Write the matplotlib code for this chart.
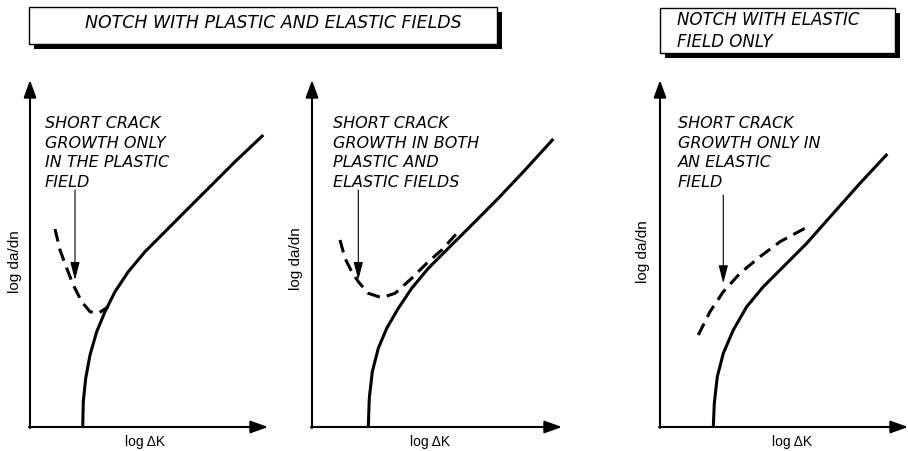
#!/usr/bin/env python3
"""Schematic: short crack growth near notches, log da/dn vs log dK."""

import matplotlib
matplotlib.use("Agg")
import matplotlib.pyplot as plt
from matplotlib.patches import Rectangle

W_PX, H_PX = 908, 451
FONT = "Liberation Sans"
NOTE_FONT = "DejaVu Sans"

# panel data in arbitrary log units (origin at axis corner)
titles = ["NOTCH WITH PLASTIC AND ELASTIC FIELDS", "NOTCH WITH ELASTIC\nFIELD ONLY"]
notes = [
    "SHORT CRACK\nGROWTH ONLY\nIN THE PLASTIC\nFIELD",
    "SHORT CRACK\nGROWTH IN BOTH\nPLASTIC AND\nELASTIC FIELDS",
    "SHORT CRACK\nGROWTH ONLY IN\nAN ELASTIC\nFIELD",
]
xlabel = "log \u0394K"
ylabel = "log da/dn"

# long crack curves (solid)
long_x = [
    [52.7, 53.3, 55.7, 60, 66.7, 75, 85, 98.3, 115, 135, 158.3, 181.7, 205, 233.3],
    [56.3, 57.3, 60.3, 66.3, 74.7, 86.3, 99.7, 116.3, 136.3, 159.7, 186.3, 213, 241.3],
    [53.3, 54.3, 57.3, 63.3, 73.3, 86.7, 103.3, 123.3, 146.7, 173.3, 200, 227.3],
]
long_y = [
    [0, 25.3, 48.7, 72, 95.3, 115.3, 135.3, 155.3, 175.3, 195.3, 218.7, 242, 265.3, 292],
    [0, 28.7, 55.3, 78.7, 98.7, 118.7, 138.7, 158.7, 178.7, 202, 228.7, 257, 288],
    [0, 23.7, 50.3, 73.7, 97, 120.3, 140.3, 160.3, 183.7, 213.7, 243.7, 273],
]
# short crack curves (dashed)
short_x = [
    [25, 30, 36.7, 43.3, 51.7, 60, 68.3, 78.3],
    [28, 33, 39.7, 46.3, 56.3, 69.7, 83, 99.7, 116.3, 129.7, 146.3],
    [38.3, 50, 63.3, 80, 100, 120, 146.7],
]
short_y = [
    [198, 177, 158.7, 142, 125.3, 115.3, 113.7, 120.3],
    [187, 168.7, 155.3, 145.3, 133.7, 129.3, 133.7, 148.7, 165.3, 177, 195.3],
    [92, 115.3, 135.3, 153.7, 170.3, 185.3, 199.7],
]
# annotation arrow: x, y start, y tip
arrow_x = [45, 46.3, 63.3]
arrow_y0 = [237, 237, 232]
arrow_y1 = [147, 147, 143.7]

# layout (pixels)
origins_x = [30, 312, 660]
origin_y = 427
x_len = [238, 250, 248]
y_len = 347
note_left = [15, 21, 18]


def fx(x):
    return x / W_PX


def fy(y):
    return 1 - y / H_PX


fig = plt.figure(figsize=(W_PX / 100, H_PX / 100), dpi=100)

for i in range(3):
    x0 = origins_x[i]
    ax = fig.add_axes([fx(x0), fy(origin_y), x_len[i] / W_PX, y_len / H_PX])
    ax.set_xlim(0, x_len[i])
    ax.set_ylim(0, y_len)
    ax.axis("off")
    axis_arrow = dict(arrowstyle="-|>,head_length=0.75,head_width=0.27",
                      lw=1.5, color="black", mutation_scale=14, shrinkA=0, shrinkB=0)
    ax.annotate("", xy=(x_len[i], 0), xytext=(-1, 0), arrowprops=axis_arrow,
                annotation_clip=False)
    ax.annotate("", xy=(0, y_len), xytext=(0, -1), arrowprops=axis_arrow,
                annotation_clip=False)
    ax.plot(long_x[i], long_y[i], color="black", lw=2.2, solid_capstyle="butt",
            solid_joinstyle="round", clip_on=False)
    ax.plot(short_x[i], short_y[i], color="black", lw=2.2, ls=(0, (4.2, 2.4)),
            clip_on=False)
    ax.annotate("", xy=(arrow_x[i], arrow_y1[i]), xytext=(arrow_x[i], arrow_y0[i]),
                arrowprops=dict(arrowstyle="-|>,head_length=1.0,head_width=0.26",
                                lw=0.8, color="black", mutation_scale=11,
                                shrinkA=0, shrinkB=0))
    ax.text(note_left[i], 311, notes[i], ha="left", va="top", fontsize=11.5,
            style="italic", family=NOTE_FONT, linespacing=1.38)

# axis labels
xl_pos = [145, 430, 792]
yl_pos = [(15, 262), (296, 259), (643, 252)]
for i in range(3):
    fig.text(fx(xl_pos[i]), fy(442), xlabel, ha="center", va="center",
             fontsize=10, family=FONT)
    fig.text(fx(yl_pos[i][0]), fy(yl_pos[i][1]), ylabel, ha="center", va="center",
             rotation=90, fontsize=11, family=FONT)

# title boxes with drop shadow
boxes = [(29, 7, 468, 37), (660, 8, 235, 45)]
shadow = 5
for (bx, by, bw, bh) in boxes:
    fig.patches.append(Rectangle((fx(bx + shadow), fy(by + bh + shadow)),
                                 bw / W_PX, bh / H_PX, transform=fig.transFigure,
                                 facecolor="black", edgecolor="black", lw=0))
    fig.patches.append(Rectangle((fx(bx), fy(by + bh)), bw / W_PX, bh / H_PX,
                                 transform=fig.transFigure, facecolor="white",
                                 edgecolor="black", lw=1.0))

fig.text(fx(273), fy(23), titles[0], ha="center", va="center", fontsize=12.5,
         style="italic", family=NOTE_FONT)
fig.text(fx(677), fy(31), titles[1], ha="left", va="center", fontsize=12,
         style="italic", family=NOTE_FONT, linespacing=1.22)

fig.savefig("out.png", dpi=100, facecolor="white")
plt.close(fig)
